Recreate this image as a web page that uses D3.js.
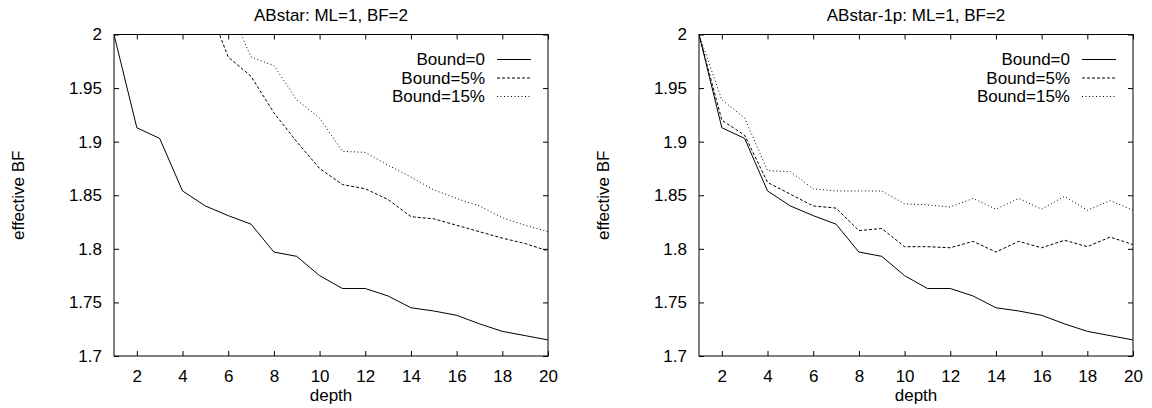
<!DOCTYPE html>
<html>
<head>
<meta charset="utf-8">
<script src="https://cdn.jsdelivr.net/npm/d3@7"></script>
<style>
  body { margin: 0; background: #fff; }
  svg text { font-family: "Liberation Sans", Arial, sans-serif; fill: #000; }
</style>
</head>
<body>
<svg id="chart" width="1152" height="408"></svg>
<script>
// values
const depth = [1, 2, 3, 4, 5, 6, 7, 8, 9, 10, 11, 12, 13, 14, 15, 16, 17, 18, 19, 20];
const seriesNames = ['Bound=0', 'Bound=5%', 'Bound=15%'];
const xTicks = [2, 4, 6, 8, 10, 12, 14, 16, 18, 20];
const yTicks = [1.7, 1.75, 1.8, 1.85, 1.9, 1.95, 2];

const bound0 = [2.0, 1.913, 1.903, 1.854, 1.840, 1.831, 1.823, 1.797, 1.793, 1.775,
                1.763, 1.763, 1.756, 1.745, 1.742, 1.738, 1.730, 1.723, 1.719, 1.715];
// ABstar: the early depths are above the top of the plot
const abstarBound5 = [null, null, null, null, 2.034, 1.979, 1.961, 1.927, 1.900, 1.875,
                      1.860, 1.856, 1.846, 1.830, 1.828, 1.822, 1.816, 1.810, 1.805, 1.798];
const abstarBound15 = [null, null, null, null, null, 2.027, 1.979, 1.971, 1.939, 1.922,
                       1.891, 1.890, 1.878, 1.867, 1.855, 1.847, 1.840, 1.829, 1.822, 1.816];
// ABstar-1p
const onepBound5 = [2.0, 1.920, 1.906, 1.862, 1.851, 1.840, 1.838, 1.817, 1.819, 1.802,
                    1.802, 1.801, 1.807, 1.797, 1.807, 1.801, 1.808, 1.802, 1.811, 1.804];
const onepBound15 = [2.0, 1.939, 1.922, 1.873, 1.872, 1.856, 1.854, 1.854, 1.854, 1.842,
                     1.841, 1.839, 1.847, 1.837, 1.847, 1.837, 1.849, 1.836, 1.845, 1.836];

class LineChart {
    constructor(config, series) {
        this.config = {
            parent: config.parent,
            offset: config.offset || 0,
            margin: config.margin,
            width: config.width || 576,
            height: config.height || 408,
            title: config.title || '',
            xlabel: config.xlabel || '',
            ylabel: config.ylabel || '',
            dashes: config.dashes
        };
        this.series = series;
        this.init();
    }

    init() {
        let self = this;
        const m = self.config.margin;

        self.root = d3.select(self.config.parent).append('g')
            .attr('transform', `translate(${self.config.offset}, 0)`);

        self.inner_width = self.config.width - m.left - m.right;
        self.inner_height = self.config.height - m.top - m.bottom;

        self.chart = self.root.append('g')
            .attr('transform', `translate(${m.left}, ${m.top})`);

        self.xscale = d3.scaleLinear().domain([1, 20]).range([0, self.inner_width]);
        self.yscale = d3.scaleLinear().domain([1.7, 2]).range([self.inner_height, 0]);

        const clipId = 'clip' + self.config.offset;
        self.chart.append('clipPath').attr('id', clipId)
            .append('rect')
            .attr('width', self.inner_width)
            .attr('height', self.inner_height);
        self.lines = self.chart.append('g').attr('clip-path', `url(#${clipId})`);

        const fmt = d => String(+d.toFixed(2));
        self.axes = [
            { g: self.chart.append('g').attr('transform', `translate(0, ${self.inner_height})`),
              axis: d3.axisBottom(self.xscale).tickValues(xTicks).tickSizeInner(-5).tickSizeOuter(0).tickPadding(14) },
            { g: self.chart.append('g'),
              axis: d3.axisTop(self.xscale).tickValues(xTicks).tickSizeInner(-5).tickSizeOuter(0).tickFormat('') },
            { g: self.chart.append('g'),
              axis: d3.axisLeft(self.yscale).tickValues(yTicks).tickSizeInner(-5).tickSizeOuter(0).tickPadding(12).tickFormat(fmt) },
            { g: self.chart.append('g').attr('transform', `translate(${self.inner_width}, 0)`),
              axis: d3.axisRight(self.yscale).tickValues(yTicks).tickSizeInner(-5).tickSizeOuter(0).tickFormat('') }
        ];

        self.chart.append('rect')
            .attr('width', self.inner_width)
            .attr('height', self.inner_height)
            .attr('fill', 'none')
            .attr('stroke', '#000')
            .attr('stroke-width', 1);

        self.root.append('text')
            .style('font-size', '17px')
            .attr('x', m.left + self.inner_width / 2)
            .attr('y', 21)
            .attr('text-anchor', 'middle')
            .text(self.config.title);

        self.root.append('text')
            .style('font-size', '17px')
            .attr('x', m.left + self.inner_width / 2)
            .attr('y', 401)
            .attr('text-anchor', 'middle')
            .text(self.config.xlabel);

        self.root.append('text')
            .style('font-size', '17px')
            .attr('transform', `translate(${m.left - 96}, ${m.top + self.inner_height / 2}) rotate(-90)`)
            .attr('text-anchor', 'middle')
            .attr('dy', '0.35em')
            .text(self.config.ylabel);
    }

    render() {
        let self = this;

        const line = d3.line()
            .defined(d => d.y !== null)
            .x(d => self.xscale(d.x))
            .y(d => self.yscale(d.y));

        self.lines.selectAll('path')
            .data(self.series)
            .join('path')
            .attr('d', s => line(depth.map((x, i) => ({ x: x, y: s[i] }))))
            .attr('fill', 'none')
            .attr('stroke', '#000')
            .attr('stroke-width', 1)
            .attr('stroke-dasharray', (s, i) => self.config.dashes[i]);

        self.axes.forEach(a => {
            a.g.call(a.axis);
            a.g.select('.domain').remove();
            a.g.selectAll('line').attr('stroke', '#000');
            a.g.selectAll('text')
                .style('font-size', '17px')
                .attr('font-family', null)
                .attr('fill', '#000');
        });

        // key
        const key = self.chart.append('g');
        const rows = key.selectAll('g')
            .data(seriesNames)
            .join('g')
            .attr('transform', (d, i) => `translate(0, ${25 + i * 18.5})`);
        rows.append('text')
            .style('font-size', '17px')
            .attr('x', self.inner_width - 63)
            .attr('dy', '0.35em')
            .attr('text-anchor', 'end')
            .text(d => d);
        rows.append('line')
            .attr('x1', self.inner_width - 51)
            .attr('x2', self.inner_width - 17)
            .attr('stroke', '#000')
            .attr('stroke-width', 1)
            .attr('stroke-dasharray', (d, i) => self.config.dashes[i]);
    }
}

const dashes = ['none', '3,2', '1,2.5'];

const left = new LineChart({
    parent: '#chart',
    offset: 0,
    margin: { top: 34.5, right: 28, bottom: 52, left: 114 },
    title: 'ABstar: ML=1, BF=2',
    xlabel: 'depth',
    ylabel: 'effective BF',
    dashes: dashes
}, [bound0, abstarBound5, abstarBound15]);
left.render();

const right = new LineChart({
    parent: '#chart',
    offset: 576,
    margin: { top: 34.5, right: 19, bottom: 52, left: 123 },
    title: 'ABstar-1p: ML=1, BF=2',
    xlabel: 'depth',
    ylabel: 'effective BF',
    dashes: dashes
}, [bound0, onepBound5, onepBound15]);
right.render();
</script>
</body>
</html>
